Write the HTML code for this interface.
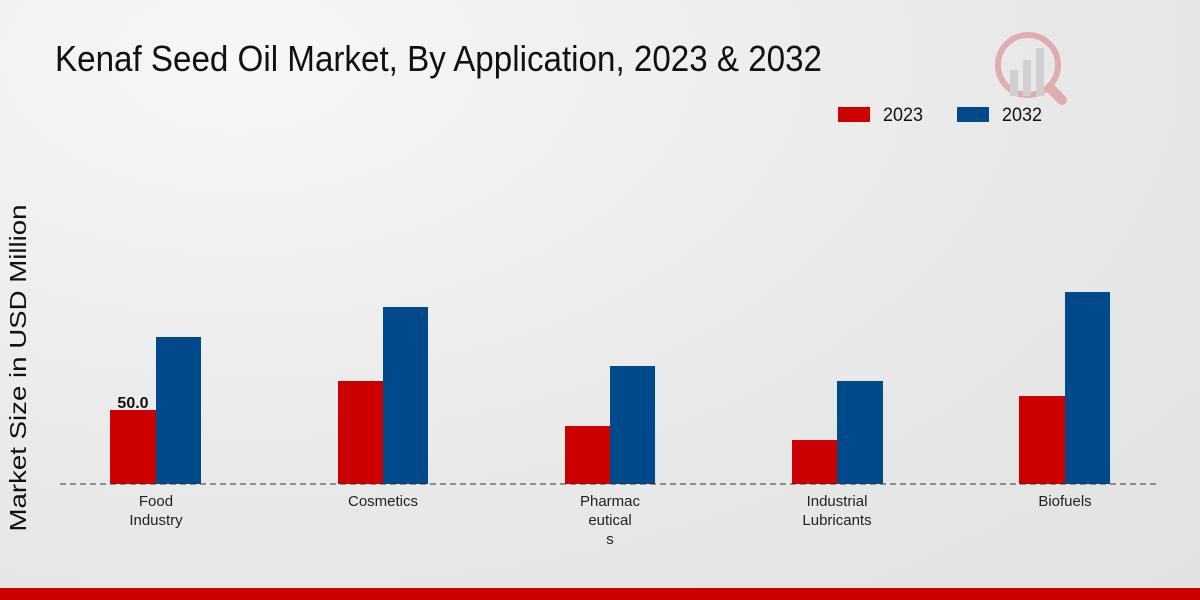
<!DOCTYPE html>
<html><head><meta charset="utf-8"><style>
html,body{margin:0;padding:0;}
body{width:1200px;height:600px;overflow:hidden;background:radial-gradient(ellipse at 20% 10%,#f7f7f7 0%,#e8e8e8 60%,#e2e2e2 100%);font-family:"Liberation Sans",sans-serif;}
</style></head><body>
<svg width="1200" height="600" xmlns="http://www.w3.org/2000/svg" style="position:absolute;left:0;top:0">
<text x="55" y="71" font-size="36" fill="#111" textLength="767" lengthAdjust="spacingAndGlyphs">Kenaf Seed Oil Market, By Application, 2023 &amp; 2032</text>
<g opacity="0.25">
<circle cx="1028" cy="65" r="30" fill="none" stroke="#c00" stroke-width="6"/>
<rect x="1010" y="70" width="8" height="26" fill="#888"/>
<rect x="1023" y="60" width="8" height="36" fill="#888"/>
<rect x="1036" y="48" width="8" height="48" fill="#888"/>
<line x1="1050" y1="88" x2="1062" y2="100" stroke="#c00" stroke-width="10" stroke-linecap="round"/>
</g>
<rect x="838" y="107" width="32" height="15" fill="#cc0000"/>
<text x="883" y="121" font-size="19" fill="#111" textLength="40" lengthAdjust="spacingAndGlyphs">2023</text>
<rect x="957" y="107" width="32" height="15" fill="#004a8c"/>
<text x="1002" y="121" font-size="19" fill="#111" textLength="40" lengthAdjust="spacingAndGlyphs">2032</text>
<text transform="translate(26,368) rotate(-90)" text-anchor="middle" font-size="23" fill="#111" textLength="327" lengthAdjust="spacingAndGlyphs">Market Size in USD Million</text>
<g fill="#cc0000">
<rect x="110" y="410" width="46" height="74"/>
<rect x="338" y="381" width="45" height="103"/>
<rect x="565" y="426" width="45" height="58"/>
<rect x="792" y="440" width="45" height="44"/>
<rect x="1019" y="396" width="46" height="88"/>
</g>
<g fill="#004a8c">
<rect x="156" y="337" width="45" height="147"/>
<rect x="383" y="307" width="45" height="177"/>
<rect x="610" y="366" width="45" height="118"/>
<rect x="837" y="381" width="46" height="103"/>
<rect x="1065" y="292" width="45" height="192"/>
</g>
<line x1="60" y1="484" x2="1160" y2="484" stroke="#333" stroke-width="1" stroke-dasharray="6,4"/>
<text x="133" y="408" text-anchor="middle" font-size="16" font-weight="bold" fill="#111">50.0</text>
<g font-size="15" fill="#222" text-anchor="middle">
<text x="156" y="506">Food</text><text x="156" y="525">Industry</text>
<text x="383" y="506">Cosmetics</text>
<text x="610" y="506">Pharmac</text><text x="610" y="525">eutical</text><text x="610" y="544">s</text>
<text x="837" y="506">Industrial</text><text x="837" y="525">Lubricants</text>
<text x="1065" y="506">Biofuels</text>
</g>
<rect x="0" y="588" width="1200" height="12" fill="#cc0000"/>
</svg>
</body></html>
